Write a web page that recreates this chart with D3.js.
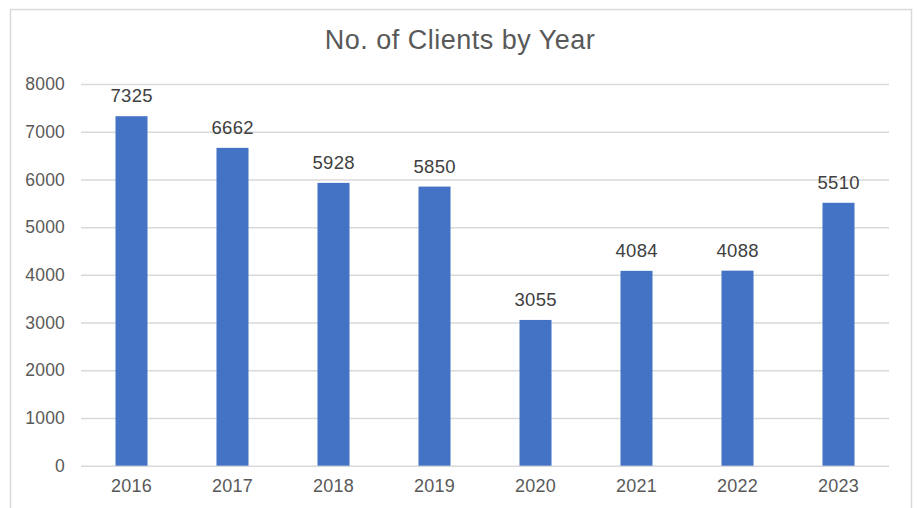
<!DOCTYPE html>
<html><head><meta charset="utf-8">
<script src="https://cdn.jsdelivr.net/npm/d3@7"></script>
<style>body{margin:0;background:#fff}svg{display:block}text{font-family:"Liberation Sans",Arial,sans-serif}</style>
</head><body><svg id="c" width="917" height="508"></svg>
<script>
const years = ["2016","2017","2018","2019","2020","2021","2022","2023"];
const clients = [7325,6662,5928,5850,3055,4084,4088,5510];
const yTicks = [0,1000,2000,3000,4000,5000,6000,7000,8000];
const title = "No. of Clients by Year";

const svg = d3.select("#c");
svg.append("rect").attr("x",10.5).attr("y",9.5).attr("width",901).attr("height",520)
  .attr("fill","#fff").attr("stroke","#d9d9d9").attr("stroke-width",1.5);

const m = {l:81, r:889, t:84, b:465.7};
const x = d3.scaleBand().domain(years).range([m.l,m.r]).paddingInner(0.683).paddingOuter(0.3415);
const y = d3.scaleLinear().domain([0,8000]).range([m.b,m.t]);

const ya = svg.append("g").attr("transform",`translate(${m.l},0)`)
  .call(d3.axisLeft(y).tickValues(yTicks).tickSize(-(m.r-m.l)).tickPadding(16).tickFormat(d3.format("d")));
ya.select(".domain").remove();
ya.selectAll("line").attr("stroke","#d9d9d9").attr("stroke-width",1.5);
ya.selectAll("text").attr("fill","#595959").attr("font-size",17.5).attr("letter-spacing",0.2);

const xa = svg.append("g").attr("transform",`translate(0,${m.b})`)
  .call(d3.axisBottom(x).tickSize(0).tickPadding(14));
xa.select(".domain").remove();
xa.selectAll("text").attr("fill","#595959").attr("font-size",18).attr("letter-spacing",0.3);

svg.selectAll("rect.bar").data(years).join("rect").attr("class","bar")
  .attr("x",d=>x(d)).attr("width",x.bandwidth())
  .attr("y",(d,i)=>y(clients[i])).attr("height",(d,i)=>y(0)-y(clients[i]))
  .attr("fill","#4472C4");

svg.selectAll("text.lab").data(years).join("text").attr("class","lab")
  .attr("x",d=>x(d)+x.bandwidth()/2+0.2).attr("y",(d,i)=>y(clients[i])-14)
  .attr("text-anchor","middle").attr("fill","#404040").attr("font-size",18.5).attr("letter-spacing",0.3)
  .text((d,i)=>clients[i]);

svg.append("text").attr("x",460).attr("y",49).attr("text-anchor","middle")
  .attr("fill","#595959").attr("font-size",27).attr("letter-spacing",0.5).text(title);
</script></body></html>
